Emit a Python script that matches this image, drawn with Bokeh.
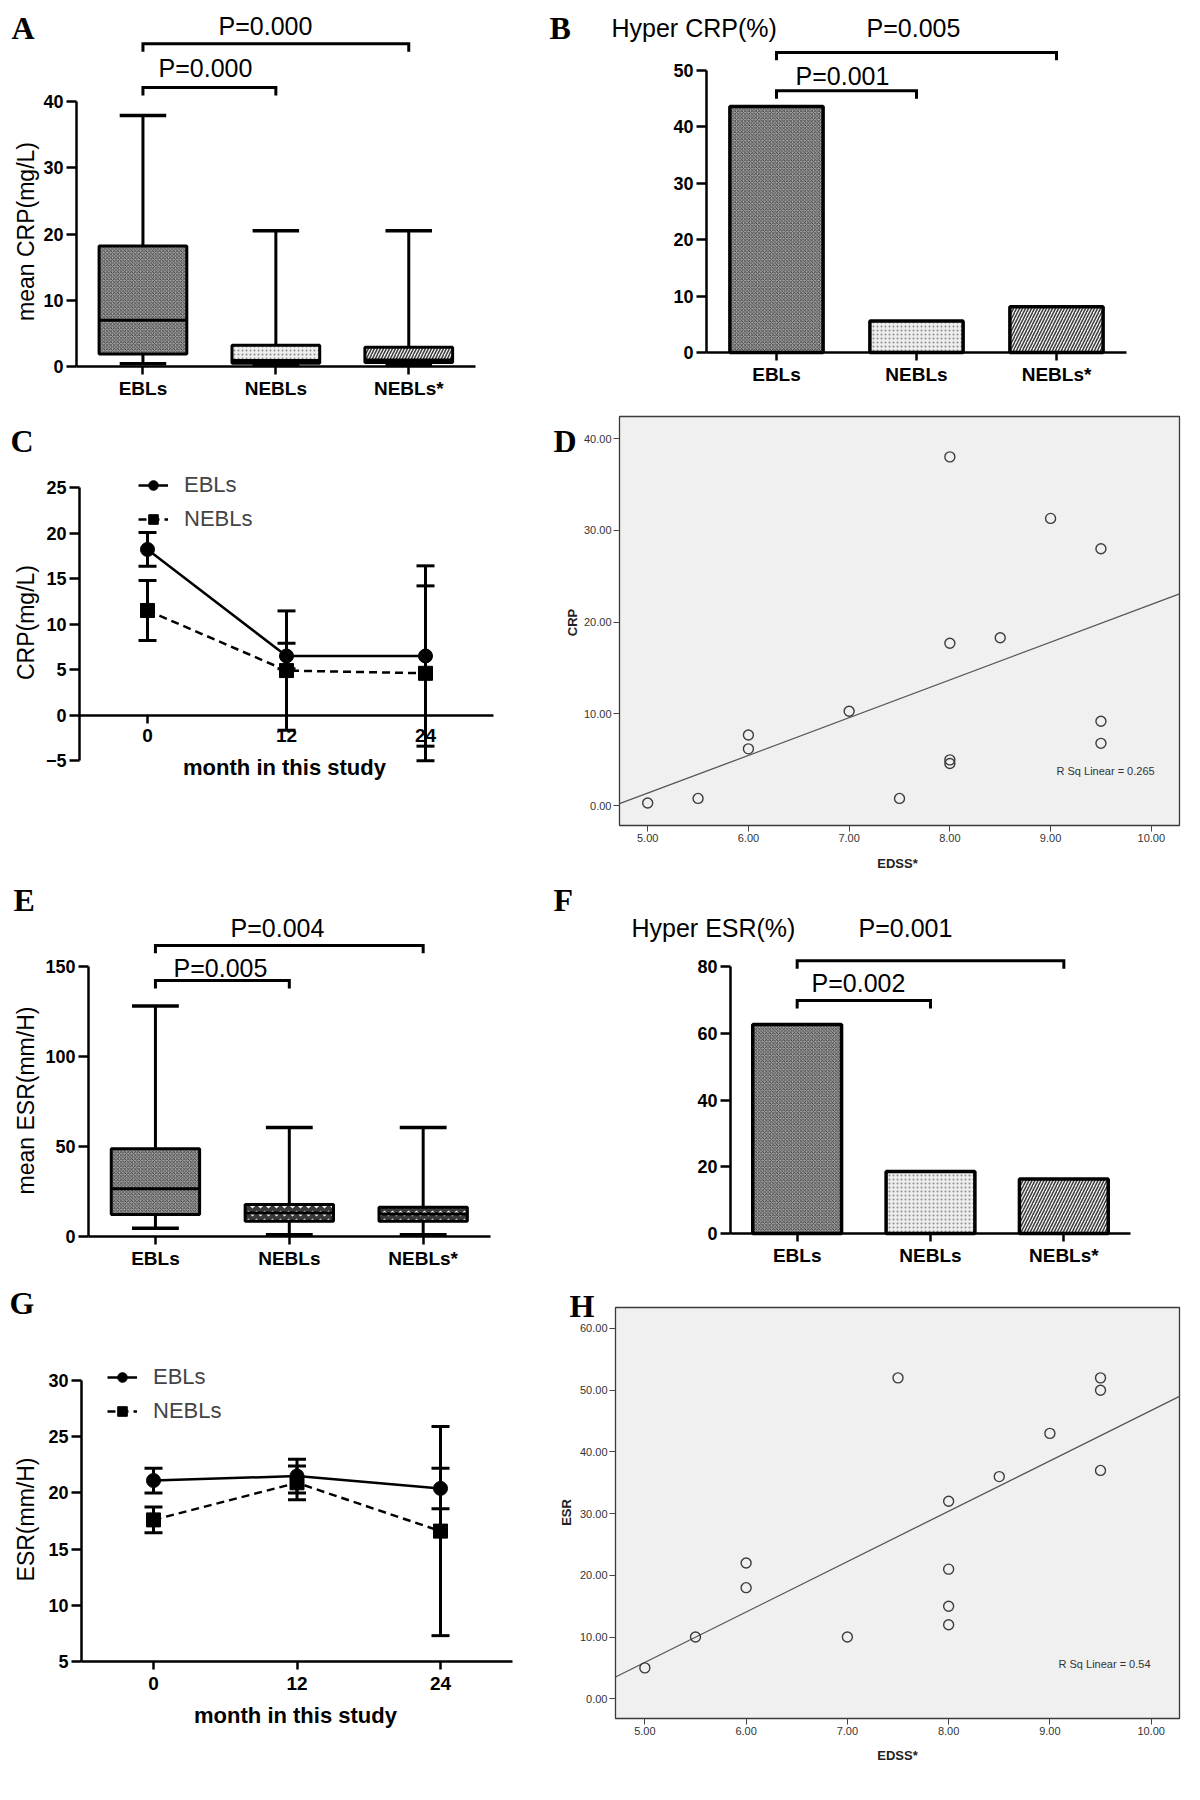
import numpy as np
from bokeh.plotting import figure
from bokeh.models import (Range1d, FixedTicker, Label, Legend, LegendItem, Whisker,
                          TeeHead, ColumnDataSource, PrintfTickFormatter, BoxAnnotation)
from bokeh.layouts import column, row
from bokeh.embed import file_html
from bokeh.resources import INLINE

# ------------------------------------------------------------------ data
groups = ["EBLs", "NEBLs", "NEBLs*"]

# A: mean CRP (mg/L) box plots
crp_box_min = [0.4, 0.2, 0.2]
crp_box_q1 = [1.9, 0.5, 0.6]
crp_box_median = [7.0, 0.9, 1.0]
crp_box_q3 = [18.2, 3.2, 2.9]
crp_box_max = [37.9, 20.5, 20.5]
crp_box_pvalues = ["P=0.000", "P=0.000"]      # EBLs-NEBLs, EBLs-NEBLs*

# B: Hyper CRP (%)
hyper_crp_pct = [43.6, 5.6, 8.1]
hyper_crp_pvalues = ["P=0.001", "P=0.005"]

# C: CRP over the study (mean, SEM)
months = [0, 12, 24]
crp_ebls_mean = [18.2, 6.5, 6.5]
crp_ebls_sem = [1.85, 1.4, 9.9]
crp_nebls_mean = [11.5, 4.9, 4.6]
crp_nebls_sem = [3.3, 6.55, 9.6]

# D / H: scatter vs EDSS*
edss = [5.0, 5.5, 6.0, 6.0, 7.0, 7.5, 8.0, 8.0, 8.0, 8.0, 8.5, 9.0, 9.5, 9.5, 9.5]
crp_values = [0.3, 0.8, 7.7, 6.2, 10.3, 0.8, 38.0, 17.7, 5.0, 4.6, 18.3, 31.3, 28.0, 9.2, 6.8]
esr_values = [5, 10, 22, 18, 10, 52, 32, 21, 15, 12, 36, 43, 52, 50, 37]
rsq_crp = "R Sq Linear = 0.265"
rsq_esr = "R Sq Linear = 0.54"

# E: mean ESR (mm/H) box plots
esr_box_min = [4.6, 1.0, 1.0]
esr_box_q1 = [12.2, 8.5, 8.5]
esr_box_median = [26.5, 13.0, 12.5]
esr_box_q3 = [48.7, 17.8, 16.3]
esr_box_max = [128.0, 60.6, 60.6]
esr_box_pvalues = ["P=0.005", "P=0.004"]

# F: Hyper ESR (%)
hyper_esr_pct = [62.6, 18.6, 16.3]
hyper_esr_pvalues = ["P=0.002", "P=0.001"]

# G: ESR over the study (mean, SEM)
esr_ebls_mean = [21.1, 21.5, 20.4]
esr_ebls_sem = [1.1, 1.5, 1.8]
esr_nebls_mean = [17.6, 20.9, 16.6]
esr_nebls_sem = [1.15, 1.5, 9.3]

# ------------------------------------------------------------------ helpers
SANS = "Liberation Sans"
SERIF = "Liberation Serif"

STYLES = {
    "checker": dict(fill_color="#a0a0a0", hatch_pattern="x", hatch_color="#303030",
                    hatch_scale=3.5, hatch_weight=0.8),
    "dots": dict(fill_color="#eeeeee", hatch_pattern=".", hatch_color="#8c8c8c",
                 hatch_scale=4, hatch_weight=1.2),
    "diag": dict(fill_color="#f4f4f4", hatch_pattern="/", hatch_color="#3c3c3c",
                 hatch_scale=6, hatch_weight=1.5),
    "wave": dict(fill_color="#3a3a3a", hatch_pattern="v", hatch_color="white",
                 hatch_scale=8, hatch_weight=1.5),
}


class Panel:
    """A figure whose whole area is the frame; cal_* map page pixels to data."""

    def __init__(self, ox, oy, w, h, cal_x, cal_y):
        self.cx, self.cy = cal_x, cal_y
        xr = (self.x(ox), self.x(ox + w))
        yr = (self.y(oy + h), self.y(oy))
        p = figure(width=w, height=h, x_range=Range1d(*xr), y_range=Range1d(*yr),
                   output_backend="svg", toolbar_location=None, min_border=0)
        p.grid.visible = False
        p.outline_line_color = None
        p.background_fill_color = "white"
        p.border_fill_color = "white"
        self.p = p

    def x(self, px):
        a, va, b, vb = self.cx
        return va + (px - a) / (b - a) * (vb - va)

    def y(self, py):
        a, va, b, vb = self.cy
        return va + (py - a) / (b - a) * (vb - va)

    def text(self, px, py, txt, size="25px", font=SANS, style="normal", align="center",
             baseline="middle", color="black", angle=0.0):
        self.p.add_layout(Label(x=self.x(px), y=self.y(py), text=txt, text_font=font,
                                text_font_style=style, text_font_size=size, text_align=align,
                                text_baseline=baseline, text_color=color, angle=angle))

    def vtext(self, px, py, txt, size="23px", style="normal", color="black"):
        self.text(px, py, txt, size=size, style=style, color=color, angle=np.pi / 2)

    def letter(self, px, py, txt):
        self.text(px, py, txt, size="32px", font=SERIF, style="bold", align="left",
                  baseline="alphabetic")


def gp_axes(pan, xticks, xbounds, x_at, yticks, ybounds, y_at, xlabels=None, xstand=3):
    p = pan.p
    xa, ya = p.xaxis[0], p.yaxis[0]
    for ax in (xa, ya):
        ax.axis_line_width = 2.5
        ax.axis_line_color = "black"
        ax.major_tick_line_width = 2.5
        ax.major_tick_line_color = "black"
        ax.major_tick_in = 0
        ax.minor_tick_line_color = None
        ax.major_label_text_font = SANS
        ax.major_label_text_font_style = "bold"
        ax.major_label_text_color = "black"
    xa.major_label_text_font_size = "19px"
    ya.major_label_text_font_size = "18px"
    xa.major_tick_out = 8
    ya.major_tick_out = 10
    xa.ticker = FixedTicker(ticks=xticks)
    if xlabels:
        xa.major_label_overrides = dict(zip(xticks, xlabels))
    xa.bounds = xbounds
    xa.major_label_standoff = xstand
    xa.fixed_location = x_at
    ya.ticker = FixedTicker(ticks=yticks)
    ya.bounds = ybounds
    ya.major_label_standoff = 3
    ya.fixed_location = y_at


def spss_axes(pan, box, xticks, yticks):
    p = pan.p
    left, right, bottom, top = box
    p.add_layout(BoxAnnotation(left=left, right=right, bottom=bottom, top=top,
                               fill_color="#f0f0f0", fill_alpha=1.0,
                               line_color="#3a3a3a", line_width=1.3, line_alpha=1.0,
                               level="underlay"))
    for ax in (p.xaxis[0], p.yaxis[0]):
        ax.axis_line_color = None
        ax.major_tick_out = 6
        ax.major_tick_in = 0
        ax.major_tick_line_color = "#444444"
        ax.major_tick_line_width = 1
        ax.minor_tick_line_color = None
        ax.formatter = PrintfTickFormatter(format="%.2f")
        ax.major_label_text_font = SANS
        ax.major_label_text_font_size = "11px"
        ax.major_label_text_color = "#333333"
        ax.major_label_standoff = 2
    p.xaxis[0].ticker = FixedTicker(ticks=xticks)
    p.yaxis[0].ticker = FixedTicker(ticks=yticks)
    p.xaxis[0].fixed_location = bottom
    p.yaxis[0].fixed_location = left
    p.xaxis[0].bounds = (left, right)
    p.yaxis[0].bounds = (bottom, top)


def draw_boxes(p, mins, q1, med, q3, maxs, styles, box_w=0.66, cap_w=0.35):
    x = np.arange(len(mins), dtype=float)
    p.segment(x, mins, x, maxs, line_color="black", line_width=3)
    p.segment(x - cap_w / 2, maxs, x + cap_w / 2, maxs, line_color="black", line_width=3.5)
    p.segment(x - cap_w / 2, mins, x + cap_w / 2, mins, line_color="black", line_width=3.5)
    for i, st in enumerate(styles):
        p.quad(left=[x[i] - box_w / 2], right=[x[i] + box_w / 2], bottom=[q1[i]], top=[q3[i]],
               line_color="black", line_width=3, **STYLES[st])
    p.segment(x - box_w / 2, med, x + box_w / 2, med, line_color="black", line_width=3)


def draw_bars(p, vals, styles, w=0.666):
    x = np.arange(len(vals), dtype=float)
    for i, st in enumerate(styles):
        p.vbar(x=[x[i]], top=[vals[i]], bottom=0, width=w, line_color="black",
               line_width=3.5, **STYLES[st])


def draw_brackets(p, pairs, levels, drop):
    xs = [[a, a, b, b] for a, b in pairs]
    ys = [[lv - drop, lv, lv, lv - drop] for lv in levels]
    p.multi_line(xs, ys, line_color="black", line_width=3, line_join="miter")


def draw_series(p, x, mean, sem, marker, dash):
    mean = np.asarray(mean, dtype=float)
    sem = np.asarray(sem, dtype=float)
    src = ColumnDataSource(dict(x=x, m=mean, up=mean + sem, lo=mean - sem))
    p.add_layout(Whisker(source=src, base="x", upper="up", lower="lo",
                         line_color="black", line_width=3,
                         upper_head=TeeHead(size=18, line_color="black", line_width=3),
                         lower_head=TeeHead(size=18, line_color="black", line_width=3)))
    ln = p.line("x", "m", source=src, line_color="black", line_width=2.5, line_dash=dash)
    sc = p.scatter("x", "m", source=src, marker=marker, size=14,
                   fill_color="black", line_color="black")
    return ln, sc


def add_legend(p, items, loc):
    lg = Legend(items=items, location=loc, orientation="vertical",
                border_line_color=None, background_fill_alpha=0,
                label_text_font=SANS, label_text_font_size="22px",
                glyph_width=30, glyph_height=24, label_height=24,
                label_standoff=16, spacing=8, padding=0, margin=0)
    p.add_layout(lg)


def scatter_fit(pan, box, xs, ys):
    p = pan.p
    coef = np.polyfit(xs, ys, 1)
    xx = np.array([box[0], box[1]])
    p.line(xx, np.polyval(coef, xx), line_color="#555555", line_width=1.3)
    p.scatter(xs, ys, marker="circle", size=10, fill_color=None,
              line_color="#3c3c3c", line_width=1.4)


cat_x = [0, 1, 2]

# ------------------------------------------------------------------ A
A = Panel(8, 8, 547, 400, (84, -0.5, 496, 2.6), (374, 0, 109, 40))
gp_axes(A, cat_x, (-0.5, 2.5), 0, [0, 10, 20, 30, 40], (0, 40), -0.5, xlabels=groups)
draw_boxes(A.p, crp_box_min, crp_box_q1, crp_box_median, crp_box_q3, crp_box_max,
           ["checker", "dots", "diag"])
draw_brackets(A.p, [(0, 1), (0, 2)], [42.1, 48.7], 1.2)
A.text(213, 75, crp_box_pvalues[0])
A.text(273, 33, crp_box_pvalues[1])
A.vtext(33, 239, "mean CRP(mg/L)")
A.letter(19, 35, "A")

# ------------------------------------------------------------------ B
B = Panel(555, 8, 637, 400, (714, -0.5, 1134, 2.5), (360, 0, 78, 50))
gp_axes(B, cat_x, (-0.5, 2.5), 0, [0, 10, 20, 30, 40, 50], (0, 50), -0.5, xlabels=groups)
draw_bars(B.p, hyper_crp_pct, ["checker", "dots", "diag"])
draw_brackets(B.p, [(0, 1), (0, 2)], [46.4, 53.2], 1.4)
B.text(850, 83, hyper_crp_pvalues[0])
B.text(921, 35, hyper_crp_pvalues[1])
B.text(619, 35, "Hyper CRP(%)", align="left")
B.letter(557, 35, "B")

# ------------------------------------------------------------------ C
C = Panel(8, 408, 547, 473, (155, 0, 433, 24), (722.7, 0, 495, 25))
gp_axes(C, months, (C.x(87), C.x(501)), 0, [-5, 0, 5, 10, 15, 20, 25], (-5, 25),
        C.x(87), xstand=6)
l1, s1 = draw_series(C.p, months, crp_ebls_mean, crp_ebls_sem, "circle", "solid")
l2, s2 = draw_series(C.p, months, crp_nebls_mean, crp_nebls_sem, "square", "8 5")
add_legend(C.p, [LegendItem(label="EBLs", renderers=[l1, s1]),
                 LegendItem(label="NEBLs", renderers=[l2, s2])], (138, 341))
C.vtext(33, 630, "CRP(mg/L)")
C.text(292, 775, "month in this study", size="22px", style="bold")
C.letter(18, 448, "C")

# ------------------------------------------------------------------ D
D = Panel(555, 408, 637, 473, (627, 4.72, 1187, 10.28), (833, -2.15, 424, 42.4))
D_box = (4.72, 10.28, -2.15, 42.4)
spss_axes(D, D_box, [5, 6, 7, 8, 9, 10], [0, 10, 20, 30, 40])
scatter_fit(D, D_box, edss, crp_values)
D.text(1064, 778, rsq_crp, size="11px", align="left", color="#333333")
D.vtext(580, 630, "CRP", size="13px", style="bold", color="#222222")
D.text(905, 871, "EDSS*", size="13px", style="bold", color="#222222")
D.letter(561, 448, "D")

# ------------------------------------------------------------------ E
E = Panel(8, 881, 547, 404, (96, -0.5, 511, 2.6), (1244, 0, 974, 150))
gp_axes(E, cat_x, (-0.5, 2.5), 0, [0, 50, 100, 150], (0, 150), -0.5, xlabels=groups)
draw_boxes(E.p, esr_box_min, esr_box_q1, esr_box_median, esr_box_q3, esr_box_max,
           ["checker", "wave", "wave"])
draw_brackets(E.p, [(0, 1), (0, 2)], [142.2, 161.7], 4.4)
E.text(228, 975, esr_box_pvalues[0])
E.text(285, 935, esr_box_pvalues[1])
E.vtext(33, 1108, "mean ESR(mm/H)")
E.letter(21, 907, "E")

# ------------------------------------------------------------------ F
F = Panel(555, 881, 637, 404, (738, -0.5, 1138, 2.5), (1241, 0, 974, 80))
gp_axes(F, cat_x, (-0.5, 2.5), 0, [0, 20, 40, 60, 80], (0, 80), -0.5, xlabels=groups)
draw_bars(F.p, hyper_esr_pct, ["checker", "dots", "diag"])
draw_brackets(F.p, [(0, 1), (0, 2)], [69.8, 81.7], 2.4)
F.text(866, 990, hyper_esr_pvalues[0])
F.text(913, 935, hyper_esr_pvalues[1])
F.text(639, 935, "Hyper ESR(%)", align="left")
F.letter(561, 907, "F")

# ------------------------------------------------------------------ G
G = Panel(8, 1285, 547, 507, (161, 0, 448, 24), (1669, 5, 1388, 30))
gp_axes(G, months, (G.x(89), G.x(520)), 5, [5, 10, 15, 20, 25, 30], (5, 30),
        G.x(89), xstand=7)
g1, gs1 = draw_series(G.p, months, esr_ebls_mean, esr_ebls_sem, "circle", "solid")
g2, gs2 = draw_series(G.p, months, esr_nebls_mean, esr_nebls_sem, "square", "8 5")
add_legend(G.p, [LegendItem(label="EBLs", renderers=[g1, gs1]),
                 LegendItem(label="NEBLs", renderers=[g2, gs2])], (107, 360))
G.vtext(33, 1527, "ESR(mm/H)")
G.text(303, 1723, "month in this study", size="22px", style="bold")
G.letter(17, 1310, "G")

# ------------------------------------------------------------------ H
H = Panel(555, 1285, 637, 507, (623, 4.71, 1187, 10.28), (1726, -3.2, 1315, 63.4))
H_box = (4.71, 10.28, -3.2, 63.4)
spss_axes(H, H_box, [5, 6, 7, 8, 9, 10], [0, 10, 20, 30, 40, 50, 60])
scatter_fit(H, H_box, edss, esr_values)
H.text(1066, 1671, rsq_esr, size="11px", align="left", color="#333333")
H.vtext(574, 1520, "ESR", size="13px", style="bold", color="#222222")
H.text(905, 1763, "EDSS*", size="13px", style="bold", color="#222222")
H.letter(577, 1313, "H")

layout = column(row(A.p, B.p), row(C.p, D.p), row(E.p, F.p), row(G.p, H.p))

with open("out.html", "w") as f:
    f.write(file_html(layout, INLINE))
